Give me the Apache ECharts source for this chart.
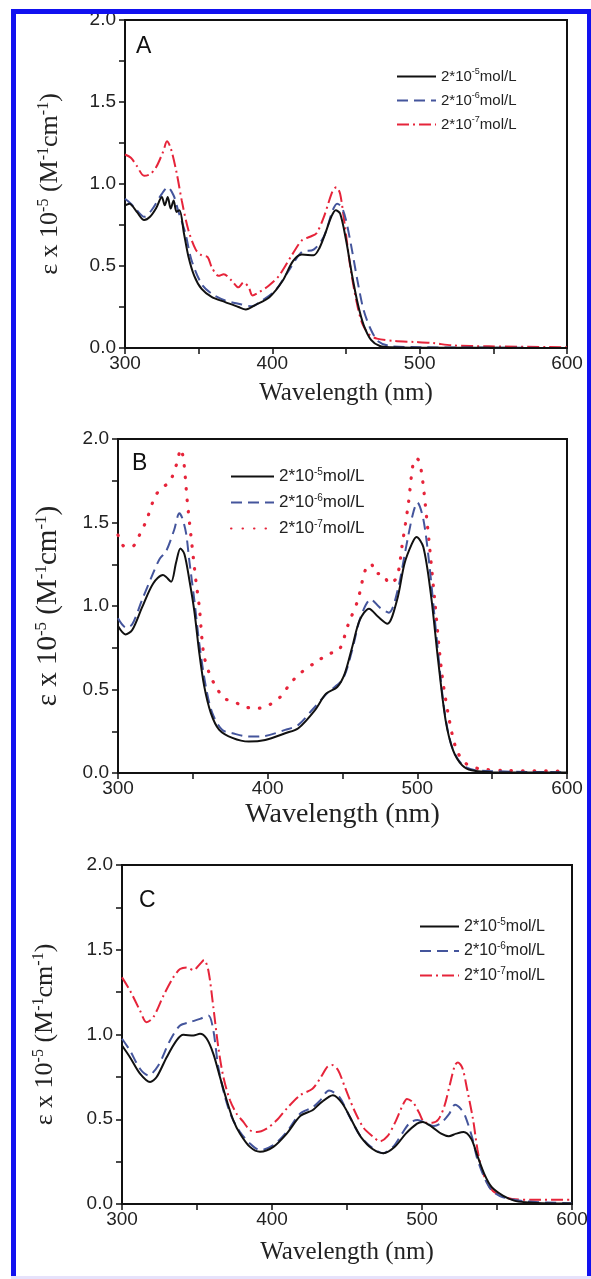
<!DOCTYPE html>
<html>
<head>
<meta charset="utf-8">
<script src="https://cdn.jsdelivr.net/npm/echarts@6/dist/echarts.min.js"></script>
<style>
  html, body { margin: 0; padding: 0; background: #fff; }
  #chart { width: 591px; height: 1279px; }
</style>
</head>
<body>
<div id="chart"></div>
<script>
// ---- panel A ----
const aNm5 = [300, 303, 308, 313, 317, 321, 325, 327, 329, 331, 333, 335, 337, 340, 343, 347, 352, 359, 368, 377, 382, 388, 398, 407, 414, 420, 428, 432, 436, 440, 443, 446, 450, 454, 458, 462, 467, 473, 480, 500, 550, 600];
const aVal5 = [0.87, 0.88, 0.83, 0.78, 0.80, 0.85, 0.92, 0.87, 0.92, 0.85, 0.90, 0.83, 0.84, 0.70, 0.56, 0.44, 0.36, 0.31, 0.28, 0.25, 0.235, 0.26, 0.31, 0.41, 0.53, 0.57, 0.565, 0.61, 0.70, 0.80, 0.84, 0.82, 0.66, 0.45, 0.27, 0.14, 0.05, 0.012, 0.004, 0.002, 0.001, 0];
const aNm6 = [300, 304, 308, 313, 318, 325, 329, 333, 336, 341, 345, 352, 359, 368, 377, 386, 393, 402, 411, 420, 428, 435, 441, 444, 447, 450, 454, 458, 462, 467, 472, 480, 500, 550, 600];
const aVal6 = [0.91, 0.88, 0.84, 0.80, 0.84, 0.94, 0.98, 0.93, 0.84, 0.70, 0.54, 0.39, 0.33, 0.29, 0.27, 0.255, 0.29, 0.35, 0.47, 0.585, 0.60, 0.68, 0.84, 0.88, 0.86, 0.78, 0.60, 0.40, 0.23, 0.11, 0.04, 0.012, 0.005, 0.002, 0];
const aNm7 = [300, 304, 308, 313, 317, 321, 326, 328.5, 331, 335, 338.5, 343, 348, 352, 356, 359, 363.5, 367, 372.5, 377, 380.5, 384, 386.5, 391, 397.5, 404.5, 413.5, 420, 426, 430, 435, 441, 443.5, 446, 449, 453, 457, 461, 466, 471, 483, 496, 509, 522, 547, 600];
const aVal7 = [1.18, 1.16, 1.11, 1.05, 1.06, 1.10, 1.20, 1.26, 1.22, 1.07, 0.90, 0.72, 0.60, 0.565, 0.555, 0.49, 0.44, 0.45, 0.41, 0.37, 0.40, 0.37, 0.32, 0.34, 0.38, 0.44, 0.57, 0.656, 0.68, 0.70, 0.80, 0.96, 0.98, 0.94, 0.76, 0.49, 0.29, 0.15, 0.08, 0.057, 0.043, 0.037, 0.03, 0.016, 0.01, 0.005];

// ---- panel B ----
const bNm5 = [300, 305, 309.5, 316, 323.5, 330, 332, 335.5, 338.8, 341.7, 344.4, 347.6, 351, 354.3, 357.6, 362, 367.5, 376.4, 387.4, 398.4, 411.7, 420.5, 431.5, 439, 446.5, 451.5, 456.5, 461.5, 467.7, 474, 480, 486.4, 491.4, 496.4, 499.4, 504, 509, 513.9, 518.9, 523.9, 530, 536.3, 550, 600];
const bVal5 = [0.88, 0.83, 0.856, 0.99, 1.135, 1.185, 1.175, 1.145, 1.26, 1.345, 1.31, 1.16, 0.97, 0.72, 0.52, 0.36, 0.26, 0.21, 0.188, 0.198, 0.238, 0.268, 0.375, 0.475, 0.515, 0.595, 0.755, 0.915, 0.984, 0.934, 0.894, 1.034, 1.253, 1.373, 1.413, 1.353, 1.074, 0.675, 0.315, 0.136, 0.046, 0.016, 0.005, 0.003];
const bNm6 = [300, 305.4, 309.5, 316, 323.4, 328, 332, 337.5, 341, 343, 345.5, 347.6, 351, 354.3, 358.7, 363.1, 369.7, 376.4, 387.4, 398.4, 411.7, 420.5, 430, 440, 450, 456, 462, 469, 475, 481, 487, 492, 497, 500, 504, 508, 513, 518, 523, 530, 540, 600];
const bVal6 = [0.926, 0.87, 0.89, 1.035, 1.195, 1.285, 1.325, 1.455, 1.555, 1.525, 1.435, 1.275, 1.035, 0.776, 0.516, 0.357, 0.257, 0.238, 0.218, 0.222, 0.258, 0.288, 0.38, 0.48, 0.56, 0.72, 0.93, 1.04, 0.99, 0.96, 1.10, 1.33, 1.55, 1.62, 1.52, 1.25, 0.80, 0.38, 0.16, 0.05, 0.015, 0.005];
const bNm7 = [300, 304.3, 309.5, 315, 319.3, 324.7, 329, 334.6, 339, 342, 344, 346.2, 348.8, 352, 354.3, 357.2, 361, 365.4, 371, 377.6, 384.3, 393, 400.8, 408.6, 415.2, 421.5, 434, 441.5, 447.7, 454, 460.2, 465.2, 469, 472.7, 476.4, 481.4, 486.4, 490, 494, 497.6, 500, 502.6, 506.4, 511.4, 516.4, 521.4, 526.3, 532.6, 541.3, 560, 600];
const bVal7 = [1.425, 1.357, 1.357, 1.437, 1.52, 1.655, 1.705, 1.745, 1.845, 1.94, 1.86, 1.635, 1.415, 1.155, 0.996, 0.716, 0.597, 0.517, 0.447, 0.427, 0.397, 0.387, 0.407, 0.457, 0.537, 0.595, 0.675, 0.715, 0.735, 0.894, 1.034, 1.214, 1.253, 1.194, 1.194, 1.134, 1.174, 1.373, 1.613, 1.872, 1.88, 1.812, 1.513, 1.054, 0.595, 0.315, 0.136, 0.056, 0.026, 0.015, 0.012];

// ---- panel C ----
const cNm5 = [300, 305.3, 312, 318.7, 323.1, 329.8, 336.4, 340.9, 347.6, 352, 356.4, 360.9, 365.3, 369.8, 374.2, 378.7, 385.3, 392, 400.9, 409.8, 419, 427, 432, 440.6, 446.9, 454.3, 459.3, 466.8, 474.3, 481.7, 489.2, 496.7, 500.4, 506.6, 512.8, 517.8, 522.8, 527.8, 532.8, 536.5, 541.5, 546.5, 553.9, 561.4, 568.9, 580, 600];
const cVal5 = [0.935, 0.866, 0.769, 0.72, 0.749, 0.866, 0.965, 0.998, 0.994, 1.004, 0.976, 0.886, 0.749, 0.612, 0.494, 0.415, 0.337, 0.308, 0.337, 0.415, 0.52, 0.553, 0.593, 0.642, 0.593, 0.474, 0.395, 0.326, 0.30, 0.336, 0.415, 0.474, 0.484, 0.455, 0.415, 0.40, 0.415, 0.425, 0.385, 0.296, 0.178, 0.099, 0.049, 0.02, 0.01, 0.005, 0.003];
const cNm6 = [300, 305.3, 312, 317.6, 324.2, 332, 338.7, 345.3, 352, 357.6, 360.9, 364.2, 368.7, 373.1, 378.7, 385.3, 392, 400.9, 409.8, 418.7, 427, 432, 438, 445, 452, 459, 467, 474, 481, 487, 492, 497, 502, 508, 513, 518, 522, 526, 529, 534, 536.5, 541.5, 546.5, 554, 570, 600];
const cVal6 = [0.975, 0.906, 0.798, 0.759, 0.817, 0.965, 1.053, 1.073, 1.092, 1.112, 1.024, 0.808, 0.631, 0.514, 0.425, 0.357, 0.318, 0.347, 0.425, 0.533, 0.57, 0.61, 0.67, 0.63, 0.51, 0.40, 0.33, 0.30, 0.34, 0.42, 0.48, 0.495, 0.48, 0.46, 0.48, 0.53, 0.585, 0.56, 0.514, 0.375, 0.277, 0.158, 0.08, 0.04, 0.015, 0.005];
const cNm7 = [300, 305.3, 312, 316.4, 320.9, 327.6, 334.2, 338.7, 343.1, 347.6, 352, 354.7, 357.6, 360.9, 364.2, 367.6, 372, 376.4, 380.9, 385.3, 389.8, 396.4, 403.1, 409.8, 418.7, 427, 432, 437, 440, 444, 449, 455, 461, 467, 472, 477, 482, 487, 490, 494, 498, 502, 507, 511, 515, 519, 522, 524, 527, 530, 534, 537, 540, 545, 550, 560, 575, 600];
const cVal7 = [1.337, 1.26, 1.141, 1.073, 1.102, 1.229, 1.337, 1.386, 1.396, 1.38, 1.416, 1.44, 1.376, 1.16, 0.925, 0.749, 0.612, 0.533, 0.484, 0.435, 0.425, 0.445, 0.494, 0.563, 0.641, 0.68, 0.74, 0.81, 0.82, 0.79, 0.68, 0.55, 0.45, 0.40, 0.37, 0.40, 0.48, 0.58, 0.62, 0.60, 0.54, 0.48, 0.48, 0.50, 0.58, 0.72, 0.82, 0.835, 0.80, 0.68, 0.50, 0.32, 0.20, 0.10, 0.06, 0.03, 0.025, 0.025];

// axis ticks
const xTicks = [300, 400, 500, 600];
const yTicks = [0, 0.5, 1.0, 1.5, 2.0];
const panelLetters = ['A', 'B', 'C'];

const SANS = 'Liberation Sans, Arial, sans-serif';
const SERIF = 'Liberation Serif, Times New Roman, serif';
const BLACK = '#111111';
const BLUE = '#44559c';
const RED = '#e6243a';

const pairs = (xs, ys) => xs.map((x, i) => [x, ys[i]]);

// layout per panel (pixels)
const panels = [
  { grid: { left: 125, top: 20, width: 442, height: 328 }, letter: { left: 136, top: 35 },
    legend: { left: 396, top: 67, width: 39, font: 15, gap: 7 }, xGap: 33, yGap: 61, font: 19, xFont: 25, yFont: 26,
    data: [[aNm5, aVal5], [aNm6, aVal6], [aNm7, aVal7]], redDash: 'dashdot' },
  { grid: { left: 118, top: 439, width: 449, height: 334 }, letter: { left: 132, top: 452 },
    legend: { left: 230, top: 467, width: 43, font: 17, gap: 8 }, xGap: 28, yGap: 54, font: 19, xFont: 28, yFont: 29,
    data: [[bNm5, bVal5], [bNm6, bVal6], [bNm7, bVal7]], redDash: 'dot' },
  { grid: { left: 122, top: 865, width: 450, height: 339 }, letter: { left: 139, top: 889 },
    legend: { left: 419, top: 917, width: 39, font: 16, gap: 7 }, xGap: 36, yGap: 63, font: 19, xFont: 25, yFont: 26,
    data: [[cNm5, cVal5], [cNm6, cVal6], [cNm7, cVal7]], redDash: 'dashdot' }
];

const lineStyles = (redDash) => [
  { color: BLACK, width: 2, type: 'solid' },
  { color: BLUE, width: 2, type: [11, 6] },
  redDash === 'dot'
    ? { color: RED, width: 3.2, type: [0.5, 11], cap: 'round' }
    : { color: RED, width: 2, type: [12, 4, 2, 4] }
];

const exps = ['5', '6', '7'];

const grid = [], xAxis = [], yAxis = [], series = [], legend = [], title = [];

panels.forEach((p, k) => {
  grid.push(Object.assign({ show: true, borderColor: '#111', borderWidth: 2, backgroundColor: 'transparent', containLabel: false }, p.grid));

  xAxis.push({
    type: 'value', gridIndex: k, min: xTicks[0], max: xTicks[xTicks.length - 1], interval: 100,
    axisLine: { show: true, onZero: false, lineStyle: { color: '#111', width: 2 } },
    axisTick: { show: true, inside: false, length: 6, lineStyle: { color: '#111', width: 1.5 } },
    minorTick: { show: true, splitNumber: 2, length: 6, lineStyle: { color: '#111', width: 1.5 } },
    splitLine: { show: false },
    axisLabel: { show: true, margin: 6, color: '#222', fontFamily: SANS, fontSize: p.font, showMinLabel: true, showMaxLabel: true, hideOverlap: false },
    name: 'Wavelength (nm)', nameLocation: 'middle', nameGap: p.xGap,
    nameTextStyle: { fontFamily: SERIF, fontSize: p.xFont, color: '#222' }
  });

  const nf = p.yFont;
  yAxis.push({
    type: 'value', gridIndex: k, min: yTicks[0], max: yTicks[yTicks.length - 1], interval: 0.5,
    axisLine: { show: true, onZero: false, lineStyle: { color: '#111', width: 2 } },
    axisTick: { show: true, inside: false, length: 6, lineStyle: { color: '#111', width: 1.5 } },
    minorTick: { show: true, splitNumber: 2, length: 6, lineStyle: { color: '#111', width: 1.5 } },
    splitLine: { show: false },
    axisLabel: { show: true, margin: 9, color: '#222', fontFamily: SANS, fontSize: p.font,
      formatter: v => v.toFixed(1), showMinLabel: true, showMaxLabel: true, hideOverlap: false },
    name: '{t|ε x 10}{s|-5}{t| (M}{s|-1}{t|cm}{s|-1}{t|)}', nameLocation: 'middle', nameGap: p.yGap,
    nameTextStyle: {
      fontFamily: SERIF, fontSize: nf, color: '#222',
      rich: {
        t: { fontFamily: SERIF, fontSize: nf, color: '#222', lineHeight: nf + 2 },
        s: { fontFamily: SERIF, fontSize: Math.round(nf * 0.6), color: '#222', lineHeight: Math.round(nf * 0.6), verticalAlign: 'top' }
      }
    }
  });

  const styles = lineStyles(p.redDash);
  const names = [];
  p.data.forEach((d, j) => {
    const name = panelLetters[k] + exps[j];
    names.push(name);
    series.push({
      type: 'line', name, xAxisIndex: k, yAxisIndex: k,
      data: pairs(d[0], d[1]), smooth: 0.3, symbol: 'none', showSymbol: false,
      lineStyle: styles[j], itemStyle: { color: styles[j].color }, z: 3 - j, silent: true
    });
  });

  const lf = p.legend.font;
  legend.push({
    orient: 'vertical', left: p.legend.left, top: p.legend.top, data: names,
    itemWidth: p.legend.width, itemHeight: 14, itemGap: p.legend.gap, selectedMode: false, padding: 0,
    itemStyle: { opacity: 0 },
    formatter: n => '{t|2*10}{s|-' + n.slice(1) + '}{t|mol/L}',
    textStyle: {
      fontFamily: SANS, fontSize: lf, color: '#222',
      rich: {
        t: { fontFamily: SANS, fontSize: lf, color: '#222', lineHeight: 19 },
        s: { fontFamily: SANS, fontSize: Math.round(lf * 0.6), color: '#222', lineHeight: 10, verticalAlign: 'top' }
      }
    }
  });

  title.push({ text: panelLetters[k], left: p.letter.left, top: p.letter.top, padding: 0,
    textStyle: { fontFamily: SANS, fontSize: 23, fontWeight: 'normal', color: '#111' } });
});

const chart = echarts.init(document.getElementById('chart'), null, { renderer: 'canvas' });
chart.setOption({
  animation: false,
  backgroundColor: '#fff',
  title, grid, xAxis, yAxis, series, legend,
  graphic: [
    { type: 'rect', silent: true, z: 100, shape: { x: 11, y: 9, width: 5, height: 1270 }, style: { fill: '#1111f0' } },
    { type: 'rect', silent: true, z: 100, shape: { x: 11, y: 9, width: 580, height: 5 }, style: { fill: '#1111f0' } },
    { type: 'rect', silent: true, z: 100, shape: { x: 587, y: 9, width: 4, height: 1270 }, style: { fill: '#1111f0' } },
    { type: 'rect', silent: true, z: 100, shape: { x: 11, y: 1276, width: 580, height: 3 }, style: { fill: '#e6e2fb' } }
  ]
});
</script>
</body>
</html>
